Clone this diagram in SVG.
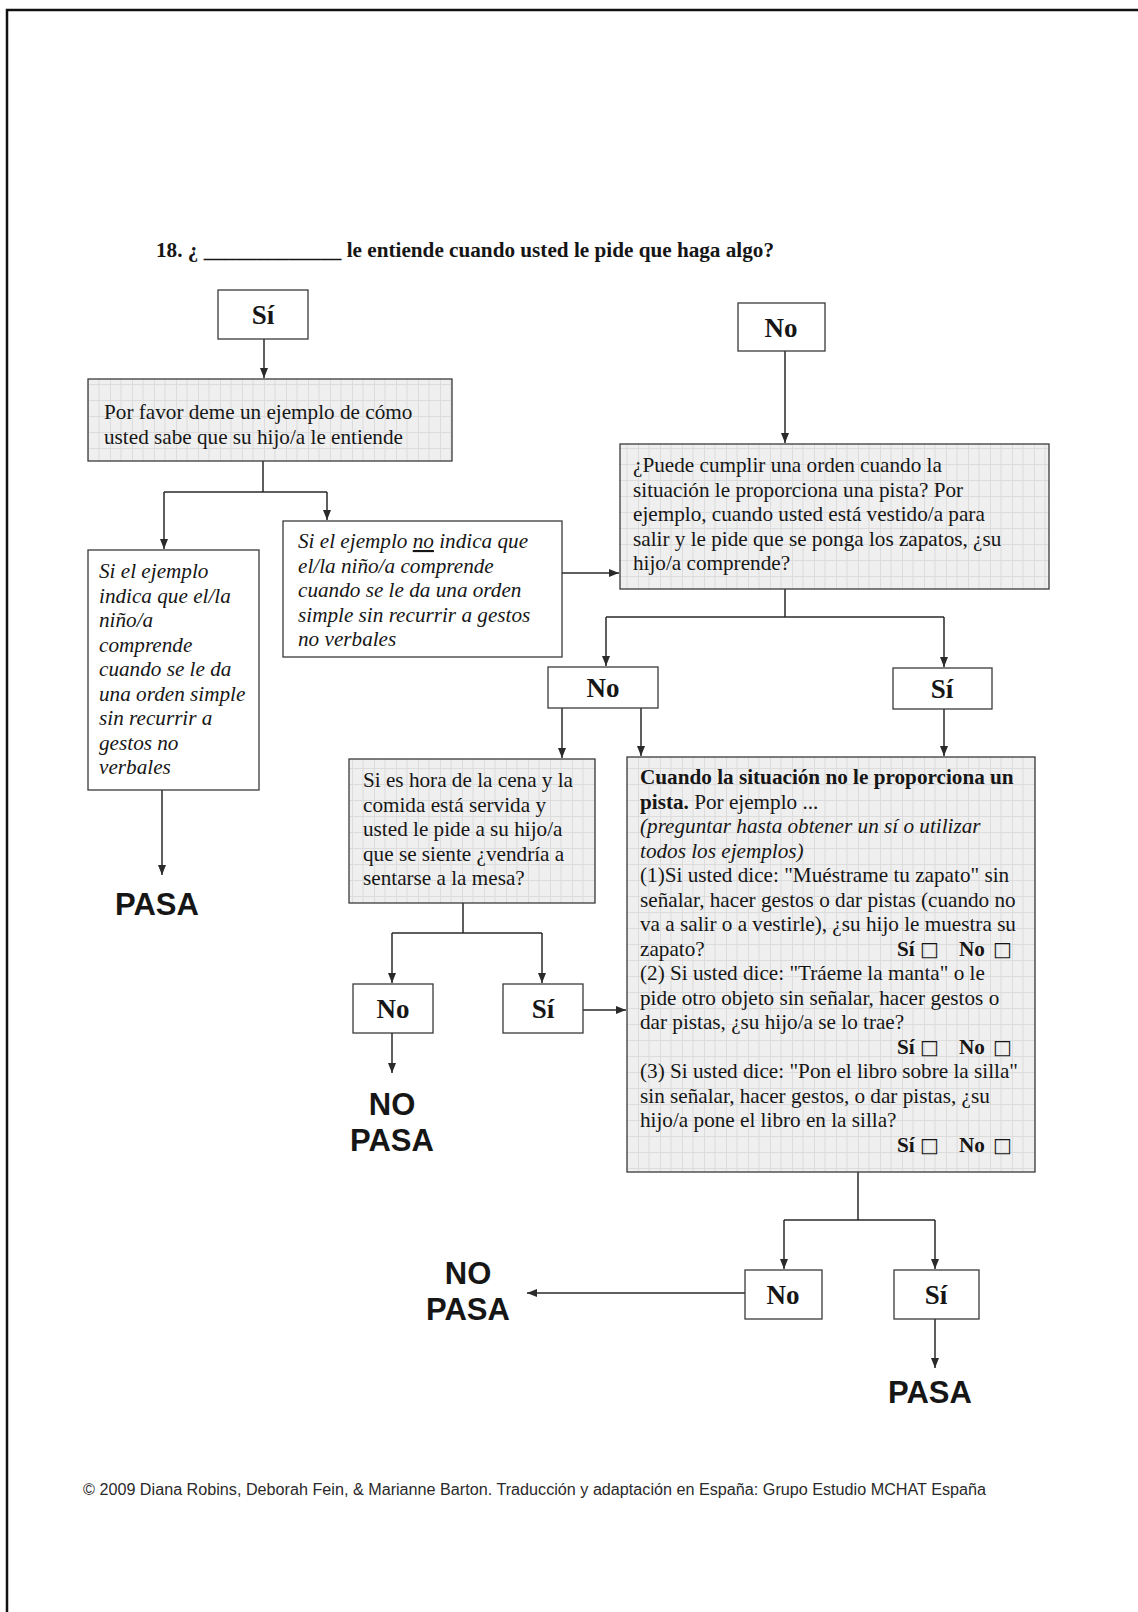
<svg xmlns="http://www.w3.org/2000/svg" width="1138" height="1612" viewBox="0 0 1138 1612">
  <defs>
    <pattern id="tex" width="22" height="16" patternUnits="userSpaceOnUse">
      <rect width="22" height="16" fill="#efefef"/>
      <path d="M0 0.5H22M0.5 0V16M11 0V16" stroke="#dcdcdc" stroke-width="1"/>
    </pattern>
    <marker id="ah" viewBox="0 0 10 10" refX="10" refY="5" markerWidth="10" markerHeight="10" markerUnits="userSpaceOnUse" orient="auto">
      <path d="M0,1 L10,5 L0,9 z" fill="#2a2a2a"/>
    </marker>
    <style>
      .box { fill: #ffffff; stroke: #3a3a3a; stroke-width: 1.3; }
      .gbox { fill: url(#tex); stroke: #3a3a3a; stroke-width: 1.3; }
      .t { font-family: "Liberation Serif", "Times New Roman", serif; font-size: 21.2px; fill: #161616; }
      .it { font-style: italic; }
      .b { font-weight: bold; }
      .lbl { font-family: "Liberation Serif", "Times New Roman", serif; font-size: 27px; font-weight: bold; fill: #161616; text-anchor: middle; }
      .end { font-family: "Liberation Sans", Arial, sans-serif; font-size: 31px; font-weight: bold; fill: #161616; text-anchor: middle; }
      .chk { font-family: "DejaVu Sans", sans-serif; font-weight: bold; font-size: 20px; }
      .ln { fill: none; stroke: #2a2a2a; stroke-width: 1.5; }
      .ar { fill: none; stroke: #2a2a2a; stroke-width: 1.5; marker-end: url(#ah); }
    </style>
  </defs>

  <rect width="1138" height="1612" fill="#ffffff"/>
  <!-- page frame -->
  <path d="M7 1612V10H1138" fill="none" stroke="#111" stroke-width="2.5"/>

  <!-- heading -->
  <text class="t b" x="156" y="257" font-size="21">18. ¿ _____________ le entiende cuando usted le pide que haga algo?</text>

  <!-- connectors -->
  <g id="connectors">
    <path class="ar" d="M264 339V378"/>
    <path class="ln" d="M263 461V492M164 492H327"/>
    <path class="ar" d="M164 492V549"/>
    <path class="ar" d="M327 492V520"/>
    <path class="ar" d="M162 790V875"/>
    <path class="ar" d="M562 573H619"/>
    <path class="ar" d="M785 351V443"/>
    <path class="ln" d="M785 589V617M606 617H944"/>
    <path class="ar" d="M606 617V666"/>
    <path class="ar" d="M944 617V667"/>
    <path class="ar" d="M562 708V758"/>
    <path class="ar" d="M641 708V756"/>
    <path class="ar" d="M944 709V756"/>
    <path class="ln" d="M463 903V933M392 933H542"/>
    <path class="ar" d="M392 933V983"/>
    <path class="ar" d="M542 933V983"/>
    <path class="ar" d="M392 1033V1073"/>
    <path class="ar" d="M583 1010H626"/>
    <path class="ln" d="M858 1172V1220M784 1220H935"/>
    <path class="ar" d="M784 1220V1269"/>
    <path class="ar" d="M935 1220V1269"/>
    <path class="ar" d="M745 1293H527"/>
    <path class="ar" d="M935 1319V1368"/>
  </g>

  <g id="n-si-top">
    <rect class="box" x="218" y="290" width="90" height="49"/>
    <text class="lbl" x="263" y="324">Sí</text>
  </g>

  <g id="n-ejemplo">
    <rect class="gbox" x="88" y="379" width="364" height="82"/>
    <text class="t" x="104" y="419">Por favor deme un ejemplo de cómo</text>
    <text class="t" x="104" y="444">usted sabe que su hijo/a le entiende</text>
  </g>

  <g id="n-indica">
    <rect class="box" x="88" y="550" width="171" height="240"/>
    <text class="t it" x="99" y="578">
      <tspan x="99">Si el ejemplo</tspan>
      <tspan x="99" dy="24.5">indica que el/la</tspan>
      <tspan x="99" dy="24.5">niño/a</tspan>
      <tspan x="99" dy="24.5">comprende</tspan>
      <tspan x="99" dy="24.5">cuando se le da</tspan>
      <tspan x="99" dy="24.5">una orden simple</tspan>
      <tspan x="99" dy="24.5">sin recurrir a</tspan>
      <tspan x="99" dy="24.5">gestos no</tspan>
      <tspan x="99" dy="24.5">verbales</tspan>
    </text>
  </g>

  <g id="n-pasa-1">
    <text class="end" x="157" y="915">PASA</text>
  </g>

  <g id="n-no-indica">
    <rect class="box" x="283" y="521" width="279" height="136"/>
    <text class="t it" x="298" y="548">
      <tspan x="298">Si el ejemplo <tspan text-decoration="underline">no</tspan> indica que</tspan>
      <tspan x="298" dy="24.5">el/la niño/a comprende</tspan>
      <tspan x="298" dy="24.5">cuando se le da una orden</tspan>
      <tspan x="298" dy="24.5">simple sin recurrir a gestos</tspan>
      <tspan x="298" dy="24.5">no verbales</tspan>
    </text>
  </g>

  <g id="n-no-top">
    <rect class="box" x="738" y="303" width="87" height="48"/>
    <text class="lbl" x="781" y="337">No</text>
  </g>

  <g id="n-pista">
    <rect class="gbox" x="620" y="444" width="429" height="145"/>
    <text class="t" x="633" y="472">
      <tspan x="633">¿Puede cumplir una orden cuando la</tspan>
      <tspan x="633" dy="24.5">situación le proporciona una pista? Por</tspan>
      <tspan x="633" dy="24.5">ejemplo, cuando usted está vestido/a para</tspan>
      <tspan x="633" dy="24.5">salir y le pide que se ponga los zapatos, ¿su</tspan>
      <tspan x="633" dy="24.5">hijo/a comprende?</tspan>
    </text>
  </g>

  <g id="n-no-mid">
    <rect class="box" x="548" y="667" width="110" height="41"/>
    <text class="lbl" x="603" y="697">No</text>
  </g>

  <g id="n-si-mid">
    <rect class="box" x="893" y="668" width="99" height="41"/>
    <text class="lbl" x="942" y="698">Sí</text>
  </g>

  <g id="n-cena">
    <rect class="gbox" x="349" y="759" width="246" height="144"/>
    <text class="t" x="363" y="787">
      <tspan x="363">Si es hora de la cena y la</tspan>
      <tspan x="363" dy="24.5">comida está servida y</tspan>
      <tspan x="363" dy="24.5">usted le pide a su hijo/a</tspan>
      <tspan x="363" dy="24.5">que se siente ¿vendría a</tspan>
      <tspan x="363" dy="24.5">sentarse a la mesa?</tspan>
    </text>
  </g>

  <g id="n-no-cena">
    <rect class="box" x="353" y="984" width="80" height="49"/>
    <text class="lbl" x="393" y="1018">No</text>
  </g>

  <g id="n-si-cena">
    <rect class="box" x="503" y="984" width="80" height="49"/>
    <text class="lbl" x="543" y="1018">Sí</text>
  </g>

  <g id="n-nopasa-1">
    <text class="end" x="392" y="1115">NO</text>
    <text class="end" x="392" y="1151">PASA</text>
  </g>

  <g id="n-sin-pista">
    <rect class="gbox" x="627" y="757" width="408" height="415"/>
    <text class="t" x="640" y="784">
      <tspan x="640" class="b">Cuando la situación no le proporciona un</tspan>
      <tspan x="640" dy="24.5"><tspan class="b">pista.</tspan> Por ejemplo  ...</tspan>
      <tspan x="640" dy="24.5" class="it">(preguntar hasta obtener un sí o utilizar</tspan>
      <tspan x="640" dy="24.5" class="it">todos los ejemplos)</tspan>
      <tspan x="640" dy="24.5">(1)Si usted dice: "Muéstrame tu zapato" sin</tspan>
      <tspan x="640" dy="24.5">señalar, hacer gestos o dar pistas (cuando no</tspan>
      <tspan x="640" dy="24.5">va a salir o a vestirle), ¿su hijo le muestra su</tspan>
      <tspan x="640" dy="24.5">zapato?</tspan>
      <tspan x="640" dy="24.5">(2) Si usted dice: "Tráeme la manta" o le</tspan>
      <tspan x="640" dy="24.5">pide otro objeto sin señalar, hacer gestos o</tspan>
      <tspan x="640" dy="24.5">dar pistas, ¿su hijo/a se lo trae?</tspan>
      <tspan x="640" dy="49">(3) Si usted dice: "Pon el libro sobre la silla"</tspan>
      <tspan x="640" dy="24.5">sin señalar, hacer gestos, o dar pistas, ¿su</tspan>
      <tspan x="640" dy="24.5">hijo/a pone el libro en la silla?</tspan>
    </text>
    <text class="t b" y="955.5"><tspan x="897">Sí</tspan><tspan class="chk" x="920">□</tspan><tspan x="959">No</tspan><tspan class="chk" x="993">□</tspan></text>
    <text class="t b" y="1053.5"><tspan x="897">Sí</tspan><tspan class="chk" x="920">□</tspan><tspan x="959">No</tspan><tspan class="chk" x="993">□</tspan></text>
    <text class="t b" y="1151.5"><tspan x="897">Sí</tspan><tspan class="chk" x="920">□</tspan><tspan x="959">No</tspan><tspan class="chk" x="993">□</tspan></text>
  </g>

  <g id="n-no-bottom">
    <rect class="box" x="745" y="1270" width="77" height="49"/>
    <text class="lbl" x="783" y="1304">No</text>
  </g>

  <g id="n-si-bottom">
    <rect class="box" x="894" y="1270" width="85" height="49"/>
    <text class="lbl" x="936" y="1304">Sí</text>
  </g>

  <g id="n-nopasa-2">
    <text class="end" x="468" y="1284">NO</text>
    <text class="end" x="468" y="1320">PASA</text>
  </g>

  <g id="n-pasa-2">
    <text class="end" x="930" y="1403">PASA</text>
  </g>

  <!-- credits -->
  <text x="83" y="1495" font-family="Liberation Sans, Arial, sans-serif" font-size="16" textLength="903" lengthAdjust="spacingAndGlyphs" fill="#2a2a2a">© 2009 Diana Robins, Deborah Fein, &amp; Marianne Barton. Traducción y adaptación en España: Grupo Estudio MCHAT España</text>
</svg>
